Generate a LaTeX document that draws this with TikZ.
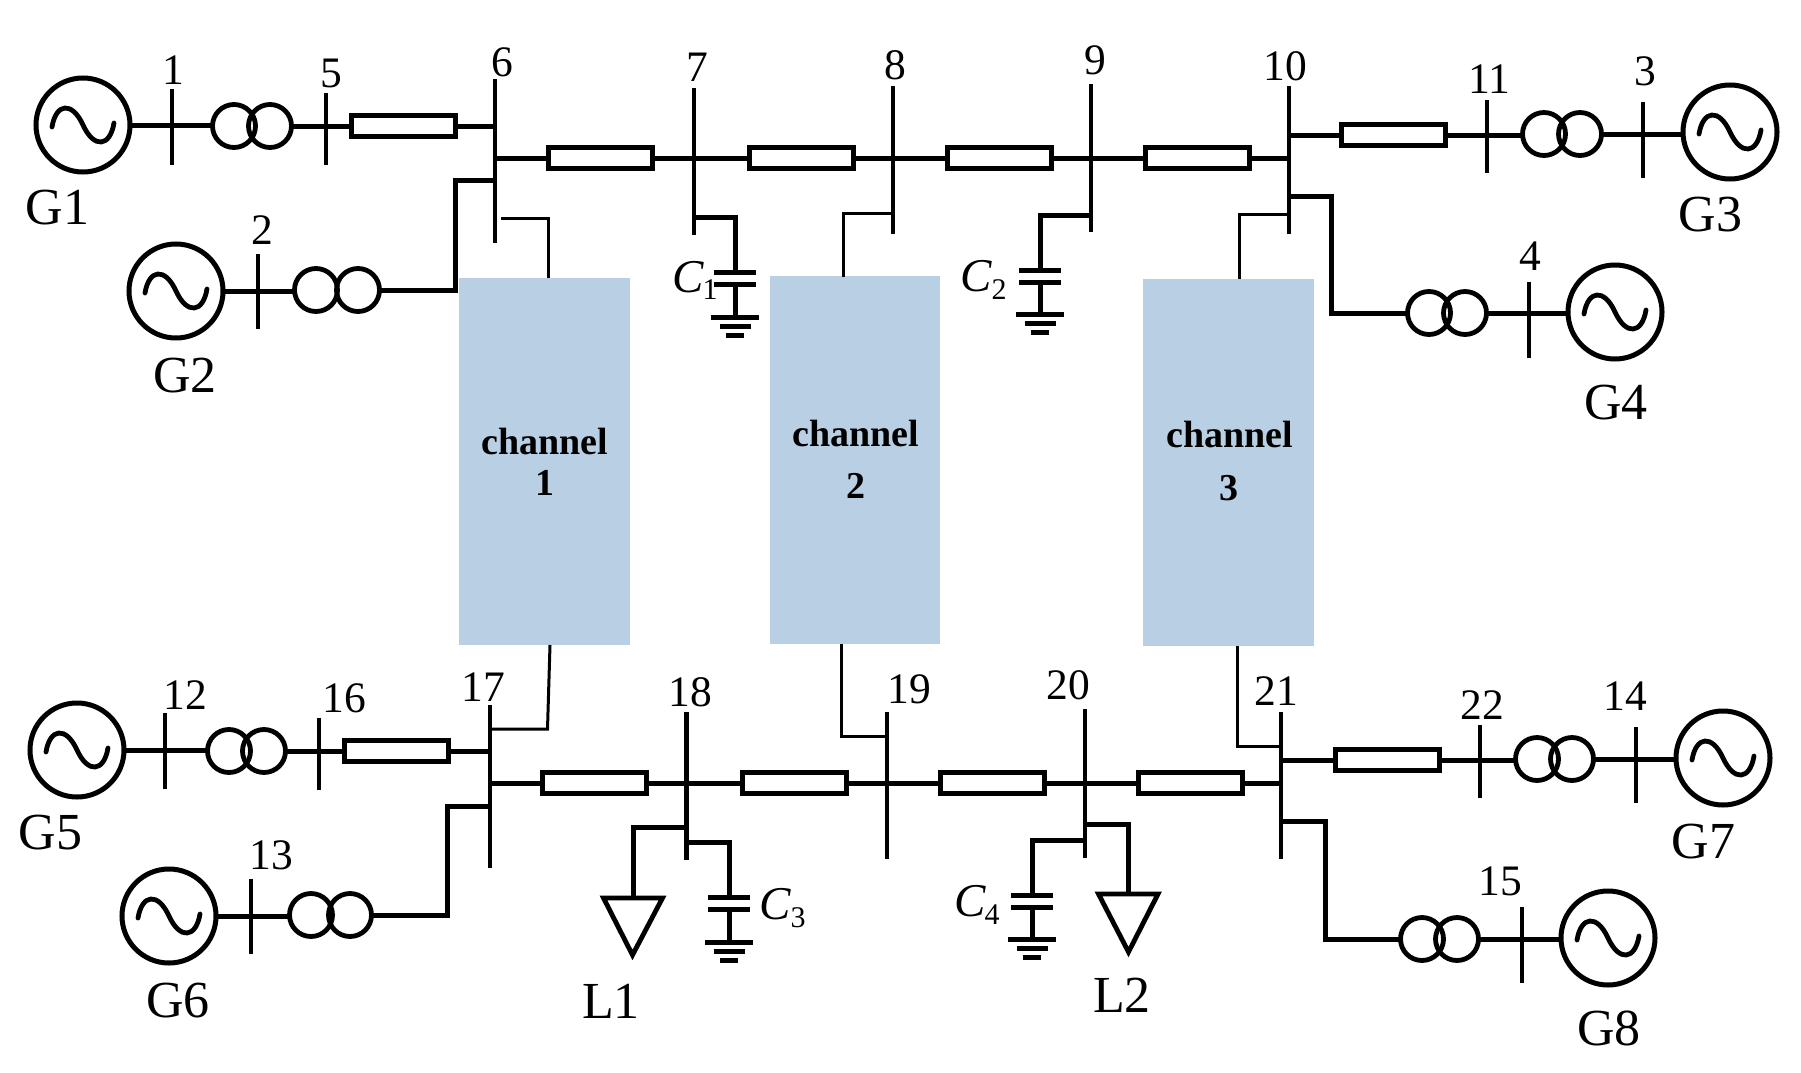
\documentclass[tikz,border=0pt]{standalone}
\usepackage{fontspec}
\setmainfont{Liberation Serif}
\tikzset{
  x=1pt,y=-1pt,
  wire/.style={line width=5pt,line join=miter,line cap=butt},
  busbar/.style={line width=4.6pt,line cap=butt},
  chwire/.style={line width=3pt,line join=miter},
  gen/.style={circle,draw,line width=5pt,inner sep=0pt,outer sep=0pt,minimum size=94pt},
  wave/.style={line width=4.8pt,line cap=round},
  xf/.style={circle,draw,line width=4.8pt,inner sep=0pt,outer sep=0pt,minimum size=43pt},
  linebox/.style={rectangle,draw,line width=5pt,inner sep=0pt,outer sep=0pt,minimum width=104pt,minimum height=21pt},
  channel/.style={rectangle,fill=chblue,inner sep=0pt,outer sep=0pt,minimum width=171pt},
  chtext/.style={inner sep=0pt,font=\fontsize{38}{38}\selectfont\bfseries},
  num/.style={inner sep=0pt,font=\fontsize{43.5}{44}\selectfont},
  gname/.style={inner sep=0pt,font=\fontsize{52}{52}\selectfont},
  capname/.style={inner sep=0pt,font=\fontsize{47}{47}\selectfont\itshape},
  capsub/.style={inner sep=0pt,font=\fontsize{30}{30}\selectfont},
  plate/.style={line width=5pt},
  loadtri/.style={line width=4.8pt,line join=miter},
}
\definecolor{chblue}{HTML}{B9CFE4}
\newcommand{\Gen}[3]{\node[gen] (#1) at (#2,#3) {};
  \draw[wave,shift={(#2,#3)}] (-31,2) .. controls (-27,-22) and (-11,-24) .. (0,0) .. controls (11,24) and (27,22) .. (31,-2);}
\newcommand{\Xf}[5]{\node[xf] (#1a) at (#2,#4) {}; \node[xf] (#1b) at (#3,#5) {};}
\newcommand{\Bus}[4]{\coordinate (#1t) at (#2,#3); \coordinate (#1b) at (#2,#4); \draw[busbar] (#1t) -- (#1b);}
\newcommand{\Cap}[8]{% name, x, ytop plate, y second, half-width, ground y1, y2, y3
  \coordinate (#1p) at (#2,#3); \coordinate (#1q) at (#2,#4); \coordinate (#1g) at (#2,#6);
  \draw[plate] ([xshift=-#5pt]#1p) -- ([xshift=#5pt]#1p);
  \draw[plate] ([xshift=-#5pt]#1q) -- ([xshift=#5pt]#1q);
  \draw[wire] (#1q) -- (#1g);
  \draw[plate] ([xshift=-24pt]#1g) -- ([xshift=24pt]#1g);
  \draw[plate] ($(#2,#7)+(-15.5,0)$) -- ($(#2,#7)+(15.5,0)$);
  \draw[plate] ($(#2,#8)+(-9,0)$) -- ($(#2,#8)+(9,0)$);}
\usetikzlibrary{calc}
\begin{document}
\begin{tikzpicture}
\useasboundingbox (0,0) rectangle (1801,1073);
% channels
\node[channel,minimum height=367pt] (ch1) at (544.5,461.5) {};
\node[channel,minimum height=367.5pt,minimum width=170pt] (ch2) at (855,460.2) {};
\node[channel,minimum height=367pt] (ch3) at (1228,462.5) {};
\node[chtext] (ch1t) at (545,441) {channel};
\node[chtext] (ch1n) at (545,483) {1};
\node[chtext] (ch2t) at (856,433) {channel};
\node[chtext] (ch2n) at (856,486) {2};
\node[chtext] (ch3t) at (1230,434) {channel};
\node[chtext] (ch3n) at (1229,488) {3};
% buses
\Bus{b1}{172}{89}{165}
\Bus{b5}{326}{93}{165}
\Bus{b6}{495}{79}{243}
\Bus{b7}{694}{88}{235}
\Bus{b8}{893}{86}{234}
\Bus{b9}{1091}{84}{232}
\Bus{b10}{1289}{86}{234}
\Bus{b11}{1487}{100}{173}
\Bus{b3}{1643}{102}{178}
\Bus{b2}{258}{254}{329}
\Bus{b4}{1529}{282}{358}
\Bus{b12}{165}{713}{789}
\Bus{b16}{319}{718}{790}
\Bus{b17}{490}{705}{868}
\Bus{b18}{686.5}{712}{860}
\Bus{b19}{887}{712}{859}
\Bus{b20}{1085}{709}{858}
\Bus{b21}{1281}{712}{859}
\Bus{b22}{1480}{725}{798}
\Bus{b14}{1636}{727}{803}
\Bus{b13}{251}{879}{954}
\Bus{b15}{1522}{907}{983}
% generators
\Gen{g1}{83}{125}
\Gen{g2}{176}{291}
\Gen{g3}{1730}{132}
\Gen{g4}{1615}{312}
\Gen{g5}{77}{750}
\Gen{g6}{169}{916}
\Gen{g7}{1723}{758}
\Gen{g8}{1608}{938}
% transformers
\Xf{t1}{234}{270}{126}{126}
\Xf{t2}{316}{358}{290}{290}
\Xf{t3}{1544}{1580}{134}{134}
\Xf{t4}{1429}{1465}{313}{313}
\Xf{t5}{229}{264}{751}{751}
\Xf{t6}{311}{350}{915}{915}
\Xf{t7}{1537}{1572}{759}{759}
\Xf{t8}{1422}{1457}{939}{939}
% line boxes
\node[linebox] (r1) at (403.5,126) {};
\node[linebox] (r2) at (600.5,158) {};
\node[linebox] (r3) at (801,158) {};
\node[linebox] (r4) at (999,158) {};
\node[linebox] (r5) at (1197.5,158) {};
\node[linebox] (r6) at (1393.5,135) {};
\node[linebox] (r7) at (396.5,751) {};
\node[linebox] (r8) at (594.5,783) {};
\node[linebox] (r9) at (794.5,783) {};
\node[linebox] (r10) at (992,783) {};
\node[linebox] (r11) at (1190.5,783) {};
\node[linebox] (r12) at (1387,760) {};
% top connectors
\draw[wire] (g1.east) -- (g1.east -| t1a.west);
\draw[wire] (t1b.east) -- (t1b.east -| r1.west);
\draw[wire] (r1.east) -- (r1.east -| b6t);
\draw[wire] (b6t |- r2) -- (r2.west);
\draw[wire] (r2.east) -- (r3.west);
\draw[wire] (r3.east) -- (r4.west);
\draw[wire] (r4.east) -- (r5.west);
\draw[wire] (r5.east) -- (r5.east -| b10t);
\draw[wire] (b10t |- r6) -- (r6.west);
\draw[wire] (r6.east) -- (r6.east -| t3a.west);
\draw[wire] (t3b.east) -- (t3b.east -| g3.west);
\draw[wire] (g2.east) -- (g2.east -| t2a.west);
\coordinate (k6) at (455,180);
\draw[wire] (t2b.east) -| (k6) -- (k6 -| b6t);
\coordinate (k10) at (1331,196);
\draw[wire] (b10t |- k10) -- (k10) |- (t4a.west);
\draw[wire] (t4b.east) -- (t4b.east -| g4.west);
% bottom connectors
\draw[wire] (g5.east) -- (g5.east -| t5a.west);
\draw[wire] (t5b.east) -- (t5b.east -| r7.west);
\draw[wire] (r7.east) -- (r7.east -| b17t);
\draw[wire] (b17t |- r8) -- (r8.west);
\draw[wire] (r8.east) -- (r9.west);
\draw[wire] (r9.east) -- (r10.west);
\draw[wire] (r10.east) -- (r11.west);
\draw[wire] (r11.east) -- (r11.east -| b21t);
\draw[wire] (b21t |- r12) -- (r12.west);
\draw[wire] (r12.east) -- (r12.east -| t7a.west);
\draw[wire] (t7b.east) -- (t7b.east -| g7.west);
\draw[wire] (g6.east) -- (g6.east -| t6a.west);
\coordinate (k17) at (447,806);
\draw[wire] (t6b.east) -| (k17) -- (k17 -| b17t);
\coordinate (k21) at (1325,821);
\draw[wire] (b21t |- k21) -- (k21) |- (t8a.west);
\draw[wire] (t8b.east) -- (t8b.east -| g8.west);
% channel links
\coordinate (c1a) at (501,218); \coordinate (c1b) at (548.5,278);
\draw[chwire] (c1a) -| (c1b);
\coordinate (c1c) at (550,645); \coordinate (c1d) at (547.5,729);
\draw[chwire] (c1c) -- (c1d) -- (c1d -| b17t);
\coordinate (c2a) at (843,213); \coordinate (c2b) at (843,277);
\draw[chwire] (b8t |- c2a) -- (c2a) -- (c2b);
\coordinate (c2c) at (841.5,644); \coordinate (c2d) at (841.5,736.5);
\draw[chwire] (c2c) -- (c2d) -- (c2d -| b19t);
\coordinate (c3a) at (1239,214); \coordinate (c3b) at (1239,279);
\draw[chwire] (b10t |- c3a) -- (c3a) -- (c3b);
\coordinate (c3c) at (1237.5,646); \coordinate (c3d) at (1237.5,746);
\draw[chwire] (c3c) -- (c3d) -- (c3d -| b21t);
% capacitors
\Cap{k1}{735}{272}{284}{21}{317.5}{326}{335}
\Cap{k2}{1040}{270}{282}{21}{314}{323}{332}
\Cap{k3}{729}{897}{909}{21}{942.5}{951}{960.5}
\Cap{k4}{1032}{895}{907.5}{21}{939.5}{948}{957.5}
\draw[wire] (b7t |- 0,217) -| (k1p);
\draw[wire] (b9t |- 0,215) -| (k2p);
\draw[wire] (b18t |- 0,842) -| (k3p);
\draw[wire] (b20t |- 0,840) -| (k4p);
% loads
\coordinate (l1) at (633,898);
\coordinate (l2) at (1128.5,894);
\draw[wire] (b18t |- 0,827) -| (l1);
\draw[wire] (b20t |- 0,824) -| (l2);
\draw[loadtri] (603.5,898) -- (662.5,898) -- (632.5,955) -- cycle;
\draw[loadtri] (1098.5,894) -- (1158,894) -- (1128.5,952) -- cycle;
% labels
\node[num] (n1) at (173,70) {1};
\node[num] (n5) at (331,73) {5};
\node[num] (n6) at (502,62) {6};
\node[num] (n7) at (697,67) {7};
\node[num] (n8) at (895,65) {8};
\node[num] (n9) at (1095,60) {9};
\node[num] (n10) at (1285,66) {10};
\node[num] (n11) at (1489,79) {11};
\node[num] (n3) at (1645,71) {3};
\node[num] (n2) at (262,230) {2};
\node[num] (n4) at (1530,256.5) {4};
\node[num] (n12) at (185,695) {12};
\node[num] (n16) at (344,698) {16};
\node[num] (n17) at (483,687) {17};
\node[num] (n18) at (690,692) {18};
\node[num] (n19) at (909,689) {19};
\node[num] (n20) at (1068,685) {20};
\node[num] (n21) at (1276,691) {21};
\node[num] (n22) at (1482,705) {22};
\node[num] (n14) at (1625,696) {14};
\node[num] (n13) at (271,855) {13};
\node[num] (n15) at (1500,881) {15};
\node[gname] (lg1) at (57.5,208) {G1};
\node[gname] (lg2) at (185,376) {G2};
\node[gname] (lg3) at (1710.5,215) {G3};
\node[gname] (lg4) at (1616,403) {G4};
\node[gname] (lg5) at (50.5,833) {G5};
\node[gname] (lg6) at (178,1001) {G6};
\node[gname] (lg7) at (1703.5,841.5) {G7};
\node[gname] (lg8) at (1609,1028) {G8};
\node[gname] (ll1) at (611,1001) {L1};
\node[gname] (ll2) at (1122,995.5) {L2};
\node[capname] (cn1) at (688,277) {C};
\node[capsub] (cs1) at (710,290) {1};
\node[capname] (cn2) at (976,276) {C};
\node[capsub] (cs2) at (999,290) {2};
\node[capname] (cn3) at (775,904) {C};
\node[capsub] (cs3) at (798,918) {3};
\node[capname] (cn4) at (970,901) {C};
\node[capsub] (cs4) at (992,915) {4};
\end{tikzpicture}
\end{document}
